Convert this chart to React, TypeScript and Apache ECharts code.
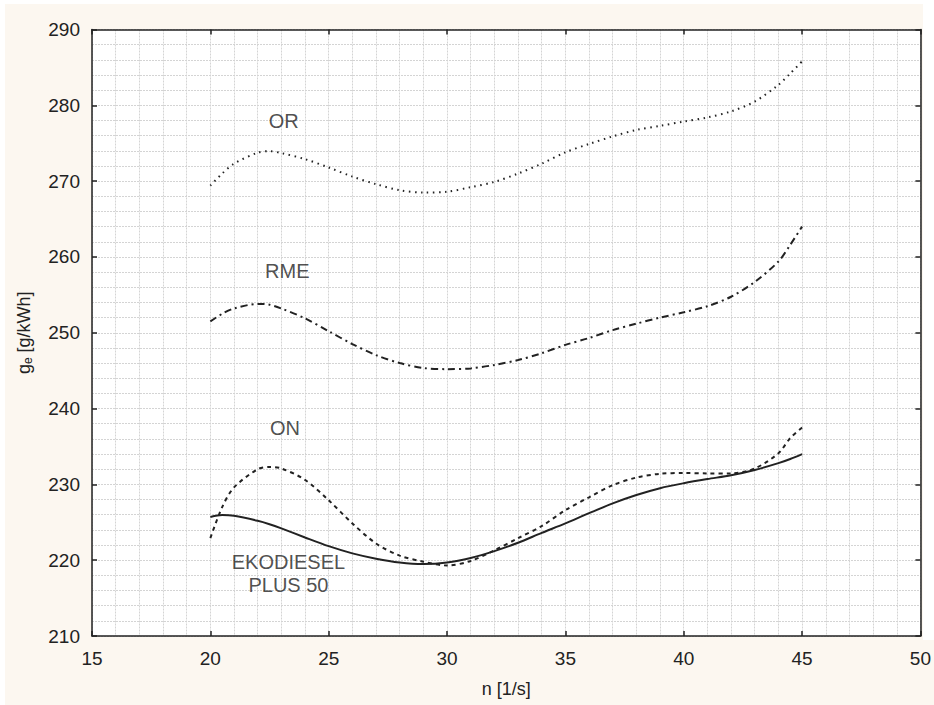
import React, { useEffect, useRef } from "react";
import * as echarts from "echarts";

const xValues = [20, 20.5, 21, 22, 22.5, 23, 24, 25, 26, 27, 28, 29, 30, 31, 32, 33, 34, 35, 36, 37, 38, 39, 40, 41, 42, 43, 44, 44.5, 45];
const orValues = [269.4, 271.0, 272.3, 273.75, 273.95, 273.7, 272.9, 271.8, 270.6, 269.6, 268.8, 268.5, 268.6, 269.2, 269.9, 271.0, 272.3, 273.8, 274.9, 275.9, 276.75, 277.3, 277.85, 278.4, 279.2, 280.5, 282.7, 284.2, 285.8];
const rmeValues = [251.5, 252.5, 253.2, 253.8, 253.7, 253.2, 251.9, 250.2, 248.5, 247.05, 246.0, 245.35, 245.2, 245.3, 245.75, 246.4, 247.3, 248.4, 249.3, 250.35, 251.2, 252.0, 252.7, 253.5, 254.75, 256.7, 259.4, 261.6, 264.0];
const onValues = [222.9, 227.0, 229.6, 232.0, 232.3, 232.1, 230.6, 227.9, 224.85, 222.2, 220.6, 219.8, 219.3, 219.9, 221.3, 222.9, 224.5, 226.6, 228.3, 229.9, 230.9, 231.4, 231.5, 231.45, 231.45, 232.1, 234.1, 236.1, 237.5];
const ekoValues = [225.7, 225.95, 225.85, 225.2, 224.75, 224.2, 223.0, 221.85, 220.9, 220.2, 219.7, 219.5, 219.7, 220.3, 221.2, 222.3, 223.6, 224.85, 226.2, 227.5, 228.6, 229.5, 230.15, 230.7, 231.2, 231.9, 232.8, 233.35, 234.0];

const labelNames = ["OR", "RME", "ON", "EKODIESEL\nPLUS 50"];
const labelX = [23.1, 23.25, 23.15, 23.3];
const labelY = [277.9, 258.1, 237.5, 218.2];

const xMin = 15, xMax = 50, xInterval = 5;
const yMin = 210, yMax = 290, yInterval = 10;

const zip = (ys: number[]) => xValues.map((x, i) => [x, ys[i]]);

const INK = "#222222";
const FONT = "'Liberation Sans', Arial, sans-serif";

export default function App() {
  const ref = useRef<HTMLDivElement>(null);
  useEffect(() => {
    if (!ref.current) return;
    const chart = echarts.init(ref.current, undefined, { renderer: "svg" });
    const gridLine = { show: true, lineStyle: { color: "#d4d4d4", type: [2, 1], width: 1 } };
    const baseX = {
      type: "value",
      min: xMin,
      max: xMax,
      interval: xInterval,
      axisLine: { show: true, onZero: false, lineStyle: { color: INK, width: 1.5 } },
      axisTick: { show: true, inside: true, length: 5, lineStyle: { color: INK, width: 1.5 } },
      minorTick: { show: false, splitNumber: 5 },
    };
    const baseY = {
      type: "value",
      min: yMin,
      max: yMax,
      interval: yInterval,
      axisLine: { show: true, onZero: false, lineStyle: { color: INK, width: 1.5 } },
      axisTick: { show: true, inside: true, length: 5, lineStyle: { color: INK, width: 1.5 } },
      minorTick: { show: false, splitNumber: 5 },
    };
    chart.setOption({
      animation: false,
      backgroundColor: "#ffffff",
      textStyle: { fontFamily: FONT },
      graphic: [
        { type: "rect", z: -10, silent: true, shape: { x: 5, y: 4, width: 918, height: 700 }, style: { fill: "#fcf7f0" } },
        { type: "rect", z: -10, silent: true, shape: { x: 5, y: 640, width: 929, height: 65 }, style: { fill: "#fcf7f0" } },
      ],
      grid: { left: 92, top: 29.5, right: 13, bottom: 69, show: true, backgroundColor: "#ffffff", borderWidth: 0 },
      xAxis: [
        {
          ...baseX,
          position: "bottom",
          name: "n [1/s]",
          nameLocation: "middle",
          nameGap: 44,
          nameTextStyle: { color: INK, fontSize: 18, fontFamily: FONT },
          axisLabel: { color: INK, fontSize: 19, margin: 13, fontFamily: FONT },
          splitLine: gridLine,
          minorSplitLine: gridLine,
        },
        { ...baseX, position: "top", axisLabel: { show: false }, splitLine: { show: false } },
      ],
      yAxis: [
        {
          ...baseY,
          position: "left",
          name: "{g|g}{s|e}{g| [g/kWh]}",
          nameLocation: "middle",
          nameGap: 58,
          nameRotate: 90,
          nameTextStyle: {
            color: INK,
            fontFamily: FONT,
            rich: {
              g: { fontSize: 18, color: INK, fontFamily: FONT, lineHeight: 20 },
              s: { fontSize: 12, color: INK, fontFamily: FONT, lineHeight: 20, verticalAlign: "bottom", padding: [7, 0, 0, 0] },
            },
          },
          axisLabel: { color: INK, fontSize: 19, margin: 12, fontFamily: FONT },
          splitLine: gridLine,
          minorSplitLine: gridLine,
        },
        { ...baseY, position: "right", axisLabel: { show: false }, splitLine: { show: false } },
      ],
      series: [
        {
          name: "OR", type: "line", data: zip(orValues), smooth: 0.3, showSymbol: false, symbol: "none",
          lineStyle: { color: INK, width: 2, type: [1.5, 4.5], cap: "butt" },
        },
        {
          name: "RME", type: "line", data: zip(rmeValues), smooth: 0.3, showSymbol: false, symbol: "none",
          lineStyle: { color: INK, width: 2, type: [7, 4, 2, 4] },
        },
        {
          name: "ON", type: "line", data: zip(onValues), smooth: 0.3, showSymbol: false, symbol: "none",
          lineStyle: { color: INK, width: 2, type: [4, 4] },
        },
        {
          name: "EKODIESEL PLUS 50", type: "line", data: zip(ekoValues), smooth: 0.3, showSymbol: false, symbol: "none",
          lineStyle: { color: INK, width: 2, type: "solid" },
        },
        {
          name: "labels", type: "scatter", symbolSize: 0, silent: true,
          data: labelNames.map((n, i) => [labelX[i], labelY[i], n]),
          label: {
            show: true, position: "inside", color: INK, fontSize: 20, fontFamily: FONT, lineHeight: 23, align: "center",
            formatter: (p: any) => p.value[2],
          },
        },
      ],
    });
    return () => chart.dispose();
  }, []);
  return <div ref={ref} style={{ position: "absolute", left: 0, top: 0, width: 934, height: 705 }} />;
}
